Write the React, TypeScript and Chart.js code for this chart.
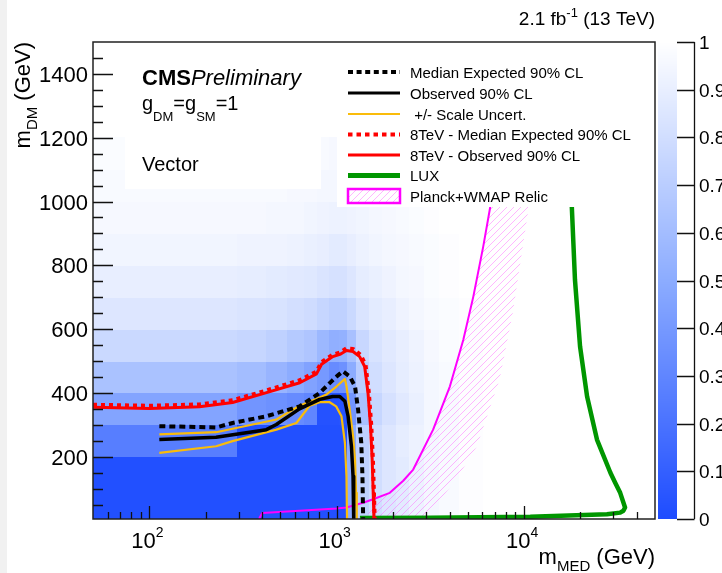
import React, { useEffect, useRef } from "react";
import { Chart, registerables } from "chart.js";

Chart.register(...registerables);

const W = 722;
const H = 573;
const FONT = '"Liberation Sans", Arial, Helvetica, sans-serif';

// ---------------- heat map (mMED bins x mDM bins, value 0..1) ----------------
const xEdges = [50, 170, 296, 423, 547, 675, 791, 918, 1037, 1145, 1280, 1500, 1760, 2080, 2450, 2950, 3550, 4500, 6000];
const yEdges = [0, 100, 200, 300, 400, 500, 600, 700, 800, 900, 1000, 1100, 1200];
const heat0 = [0.02, 0.02, 0.02, 0.02, 0.02, 0.02, 0.02, 0.02, 0.02, 0.5, 0.72, 0.8, 0.85, 0.88, 0.92, 0.95, 0.97, 0.99];
const heat1 = [0.02, 0.02, 0.02, 0.02, 0.02, 0.02, 0.02, 0.02, 0.02, 0.5, 0.72, 0.8, 0.85, 0.88, 0.92, 0.95, 0.97, 0.99];
const heat2 = [0.26, 0.26, 0.02, 0.02, 0.02, 0.02, 0.02, 0.02, 0.02, 0.5, 0.72, 0.8, 0.85, 0.89, 0.92, 0.95, 0.97, 0.99];
const heat3 = [0.46, 0.46, 0.38, 0.36, 0.33, 0.3, 0.03, 0.03, 0.04, 0.38, 0.62, 0.75, 0.82, 0.87, 0.91, 0.95, 0.97, 0.99];
const heat4 = [0.63, 0.63, 0.6, 0.55, 0.5, 0.45, 0.4, 0.33, 0.36, 0.5, 0.7, 0.8, 0.85, 0.89, 0.92, 0.95, 0.97, 0.99];
const heat5 = [0.77, 0.77, 0.75, 0.72, 0.68, 0.65, 0.57, 0.52, 0.53, 0.62, 0.76, 0.83, 0.87, 0.9, 0.93, 0.96, 0.98, 0.99];
const heat6 = [0.85, 0.85, 0.84, 0.83, 0.81, 0.79, 0.75, 0.72, 0.72, 0.77, 0.84, 0.88, 0.9, 0.93, 0.95, 0.97, 0.98, 0.99];
const heat7 = [0.9, 0.9, 0.89, 0.88, 0.87, 0.86, 0.84, 0.82, 0.82, 0.85, 0.89, 0.91, 0.93, 0.95, 0.96, 0.98, 0.99, 1];
const heat8 = [0.94, 0.94, 0.93, 0.93, 0.92, 0.91, 0.9, 0.88, 0.88, 0.9, 0.92, 0.94, 0.95, 0.96, 0.97, 0.98, 0.99, 1];
const heat9 = [0.96, 0.96, 0.96, 0.95, 0.95, 0.94, 0.93, 0.92, 0.92, 0.93, 0.94, 0.95, 0.96, 0.97, 0.98, 0.99, 1, 1];
const heat10 = [0.97, 0.97, 0.97, 0.97, 0.96, 0.96, 0.95, 0.95, 0.95, 0.95, 0.96, 0.97, 0.97, 0.98, 0.99, 1, 1, 1];
const heat11 = [0.98, 0.98, 0.98, 0.98, 0.97, 0.97, 0.97, 0.96, 0.96, 0.96, 0.97, 0.98, 0.98, 0.99, 1, 1, 1, 1];
const heatRows = [heat0, heat1, heat2, heat3, heat4, heat5, heat6, heat7, heat8, heat9, heat10, heat11];

// ---------------- contours (mMED, mDM) ----------------
const expMed = [113, 227, 278, 421, 633, 811, 917, 1000, 1078, 1173, 1252, 1300, 1352, 1372, 1384];
const expDm = [296, 292, 306, 327, 358, 400, 431, 452, 468, 452, 421, 348, 244, 139, 5];

const obsMed = [113, 227, 421, 476, 633, 811, 951, 1038, 1106, 1150, 1198, 1222, 1232];
const obsDm = [254, 261, 285, 301, 350, 380, 389, 389, 374, 327, 233, 139, 5];

const upMed = [113, 227, 476, 633, 811, 880, 1000, 1106, 1127, 1173, 1222, 1252, 1268, 1279];
const upDm = [270, 277, 317, 360, 386, 395, 421, 444, 421, 348, 264, 192, 87, 5];

const dnMed = [113, 227, 278, 476, 609, 716, 811, 917, 993, 1060, 1106, 1127, 1135];
const dnDm = [212, 233, 249, 285, 306, 360, 371, 371, 358, 327, 244, 139, 5];

const r8obsMed = [50, 100, 185, 278, 422, 635, 780, 830, 953, 1050, 1127, 1221, 1325, 1410, 1469, 1515, 1546, 1566, 1580];
const r8obsDm = [355, 351, 357, 370, 401, 432, 460, 490, 514, 522, 533, 530, 514, 483, 400, 296, 192, 87, 5];

const r8expMed = [50, 100, 185, 278, 422, 635, 780, 830, 953, 1050, 1127, 1221, 1340, 1425, 1485, 1530, 1560, 1580, 1595];
const r8expDm = [363, 360, 364, 377, 408, 440, 467, 497, 520, 528, 540, 538, 520, 488, 400, 296, 192, 87, 5];

const luxMed = [1330, 3150, 10800, 27700, 32600, 33900, 34600, 32600, 30700, 28900, 24500, 21700, 19900, 18700, 18000, 17700];
const luxDm = [8, 9, 12, 20, 25, 31, 41, 87, 118, 150, 254, 389, 546, 754, 979, 1100];

const relicMed = [385, 400, 600, 1000, 1127, 1383, 1565, 1920, 2265, 2560, 3270, 4020, 4740, 5360, 6050, 6580, 7100];
const relicDm = [5, 24, 30, 38, 41, 56, 67, 87, 125, 160, 285, 421, 567, 702, 858, 979, 1100];

const hatchMed = [1440, 1565, 1920, 2265, 2560, 3270, 4020, 4740, 5360, 6050, 6580, 7100, 11800, 10700, 8700, 7400, 5600, 4360, 3300, 3000, 1440];
const hatchDm = [5, 67, 87, 125, 160, 285, 421, 567, 702, 858, 979, 1100, 1100, 1000, 650, 442, 233, 130, 40, 5, 5];

// ---------------- axes / labels ----------------
const yMajorTicks = [200, 400, 600, 800, 1000, 1200, 1400];
const yMinorTicks = [50, 100, 150, 250, 300, 350, 450, 500, 550, 650, 700, 750, 850, 900, 950, 1050, 1100, 1150, 1250, 1300, 1350, 1450];
const xMajorTicks = [100, 1000, 10000];
const xMajorExp = ["2", "3", "4"];
const xMinorTicks = [60, 70, 80, 90, 200, 300, 400, 500, 600, 700, 800, 900, 2000, 3000, 4000, 5000, 6000, 7000, 8000, 9000, 20000, 30000, 40000];
const zTicks = [0, 0.1, 0.2, 0.3, 0.4, 0.5, 0.6, 0.7, 0.8, 0.9, 1];
const zLabels = ["0", "0.1", "0.2", "0.3", "0.4", "0.5", "0.6", "0.7", "0.8", "0.9", "1"];
const legendLabels = [
  "Median Expected 90% CL",
  "Observed 90% CL",
  " +/- Scale Uncert.",
  "8TeV - Median Expected 90% CL",
  "8TeV - Observed 90% CL",
  "LUX",
  "Planck+WMAP Relic",
];

const YELLOW = "rgb(250,188,10)";
const RED = "rgb(255,0,0)";
const GREEN = "rgb(0,150,0)";
const MAGENTA = "rgb(255,0,255)";

const STOPS = [
  [0, 30, 76, 255],
  [0.5, 140, 172, 255],
  [1, 255, 255, 255],
];
function heatColor(v: number) {
  const t = Math.max(0, Math.min(1, v));
  for (let i = 0; i < STOPS.length - 1; i++) {
    const a = STOPS[i];
    const b = STOPS[i + 1];
    if (t <= b[0]) {
      const f = (t - a[0]) / (b[0] - a[0]);
      const r = Math.round(a[1] + (b[1] - a[1]) * f);
      const g = Math.round(a[2] + (b[2] - a[2]) * f);
      const bl = Math.round(a[3] + (b[3] - a[3]) * f);
      return `rgb(${r},${g},${bl})`;
    }
  }
  return "rgb(255,255,255)";
}

type Part = { t: string; size: number; dy?: number; style?: string };
function drawParts(ctx: CanvasRenderingContext2D, parts: Part[], x: number, y: number, align: string) {
  let total = 0;
  const widths: number[] = [];
  for (const p of parts) {
    ctx.font = `${p.style || ""} ${p.size}px ${FONT}`;
    const w = ctx.measureText(p.t).width;
    widths.push(w);
    total += w;
  }
  let cx = align === "right" ? x - total : align === "center" ? x - total / 2 : x;
  ctx.textAlign = "left";
  ctx.textBaseline = "alphabetic";
  parts.forEach((p, i) => {
    ctx.font = `${p.style || ""} ${p.size}px ${FONT}`;
    ctx.fillText(p.t, cx, y + (p.dy || 0));
    cx += widths[i];
  });
}

function makeHatch(): CanvasPattern | string {
  const c = document.createElement("canvas");
  c.width = 7;
  c.height = 7;
  const g = c.getContext("2d");
  if (!g) return "rgba(255,0,255,0.2)";
  g.strokeStyle = "rgba(255,90,255,0.55)";
  g.lineWidth = 0.8;
  g.beginPath();
  g.moveTo(-1, 8);
  g.lineTo(8, -1);
  g.moveTo(-1, 1);
  g.lineTo(1, -1);
  g.moveTo(6, 8);
  g.lineTo(8, 6);
  g.stroke();
  const p = g.createPattern(c, "repeat");
  return p || "rgba(255,0,255,0.2)";
}

const pts = (xs: number[], ys: number[]) => xs.map((x, i) => ({ x, y: ys[i] }));

function drawLegendSymbol(ctx: CanvasRenderingContext2D, i: number, y: number, hatch: any) {
  const x0 = 348;
  const x1 = 400;
  ctx.save();
  ctx.lineCap = "butt";
  const line = (color: string, w: number, dash: number[]) => {
    ctx.strokeStyle = color;
    ctx.lineWidth = w;
    ctx.setLineDash(dash);
    ctx.beginPath();
    ctx.moveTo(x0, y);
    ctx.lineTo(x1, y);
    ctx.stroke();
  };
  if (i === 0) line("#000", 4, [5, 3.6]);
  if (i === 1) line("#000", 3, []);
  if (i === 2) line(YELLOW, 2, []);
  if (i === 3) line(RED, 4, [4.5, 4]);
  if (i === 4) line(RED, 3, []);
  if (i === 5) line(GREEN, 5, []);
  if (i === 6) {
    ctx.fillStyle = "#fff";
    ctx.fillRect(x0, y - 7, x1 - x0, 14);
    ctx.fillStyle = hatch;
    ctx.fillRect(x0, y - 7, x1 - x0, 14);
    ctx.strokeStyle = MAGENTA;
    ctx.lineWidth = 2.5;
    ctx.setLineDash([]);
    ctx.strokeRect(x0, y - 7, x1 - x0, 14);
  }
  ctx.restore();
}

export default function App() {
  const ref = useRef<HTMLCanvasElement>(null);

  useEffect(() => {
    const canvas = ref.current;
    if (!canvas) return;
    const hatch = makeHatch();

    const rootPlugin = {
      id: "rootStyle",
      beforeDraw(chart: any) {
        const ctx = chart.ctx as CanvasRenderingContext2D;
        ctx.save();
        ctx.fillStyle = "#fff";
        ctx.fillRect(0, 0, W, H);
        ctx.fillStyle = "#f1f1f1";
        ctx.fillRect(0, 0, 7, H);
        ctx.restore();
      },
      beforeDatasetsDraw(chart: any) {
        const ctx = chart.ctx as CanvasRenderingContext2D;
        const a = chart.chartArea;
        const xs = chart.scales.x;
        const ys = chart.scales.y;
        ctx.save();
        ctx.beginPath();
        ctx.rect(a.left, a.top, a.right - a.left, a.bottom - a.top);
        ctx.clip();
        for (let j = 0; j < heatRows.length; j++) {
          const row = heatRows[j];
          const yTop = ys.getPixelForValue(yEdges[j + 1]);
          const yBot = ys.getPixelForValue(yEdges[j]);
          for (let i = 0; i < row.length; i++) {
            const xl = xs.getPixelForValue(xEdges[i]);
            const xr = xs.getPixelForValue(xEdges[i + 1]);
            ctx.fillStyle = heatColor(row[i]);
            ctx.fillRect(Math.floor(xl), Math.floor(yTop), Math.ceil(xr) - Math.floor(xl), Math.ceil(yBot) - Math.floor(yTop));
          }
        }
        ctx.restore();
      },
      afterDatasetsDraw(chart: any) {
        const ctx = chart.ctx as CanvasRenderingContext2D;
        const a = chart.chartArea;
        const xs = chart.scales.x;
        const ys = chart.scales.y;
        ctx.save();

        // white boxes (text box and legend)
        ctx.fillStyle = "#fff";
        ctx.fillRect(125, a.top, 196, 189 - a.top);
        ctx.fillRect(337, a.top, a.right - 337, 207 - a.top);

        // CMS text
        ctx.fillStyle = "#000";
        drawParts(ctx, [
          { t: "CMS", size: 22, style: "bold" },
          { t: "Preliminary", size: 22, style: "italic" },
        ], 142, 85, "left");
        drawParts(ctx, [
          { t: "g", size: 20 },
          { t: "DM", size: 13, dy: 11 },
          { t: "=g", size: 20 },
          { t: "SM", size: 13, dy: 11 },
          { t: "=1", size: 20 },
        ], 142, 110, "left");
        drawParts(ctx, [{ t: "Vector", size: 20 }], 142, 171, "left");

        // legend
        const legendY = [72, 93, 114, 134.5, 155, 175.5, 196];
        legendLabels.forEach((lab, i) => {
          drawLegendSymbol(ctx, i, legendY[i], hatch);
          ctx.fillStyle = "#000";
          drawParts(ctx, [{ t: lab, size: 15 }], 410, legendY[i] + 5.5, "left");
        });

        // frame
        ctx.strokeStyle = "#222";
        ctx.lineWidth = 1.5;
        ctx.setLineDash([]);
        ctx.strokeRect(a.left, a.top, a.right - a.left, a.bottom - a.top);

        // y ticks
        ctx.lineWidth = 1.3;
        ctx.strokeStyle = "#111";
        ctx.beginPath();
        for (const v of yMajorTicks) {
          const p = Math.round(ys.getPixelForValue(v)) + 0.5;
          ctx.moveTo(a.left, p);
          ctx.lineTo(a.left + 20, p);
        }
        for (const v of yMinorTicks) {
          const p = Math.round(ys.getPixelForValue(v)) + 0.5;
          ctx.moveTo(a.left, p);
          ctx.lineTo(a.left + 10, p);
        }
        // x ticks
        for (const v of xMajorTicks) {
          const p = Math.round(xs.getPixelForValue(v)) + 0.5;
          ctx.moveTo(p, a.bottom);
          ctx.lineTo(p, a.bottom - 13);
        }
        for (const v of xMinorTicks) {
          const p = Math.round(xs.getPixelForValue(v)) + 0.5;
          ctx.moveTo(p, a.bottom);
          ctx.lineTo(p, a.bottom - 7);
        }
        ctx.stroke();

        // y tick labels
        ctx.fillStyle = "#000";
        for (const v of yMajorTicks) {
          drawParts(ctx, [{ t: String(v), size: 22 }], 88, ys.getPixelForValue(v) + 8, "right");
        }
        // x tick labels
        xMajorTicks.forEach((v, i) => {
          drawParts(ctx, [
            { t: "10", size: 22 },
            { t: xMajorExp[i], size: 14, dy: -11 },
          ], xs.getPixelForValue(v) - 2, 548, "center");
        });

        // axis titles
        drawParts(ctx, [
          { t: "m", size: 22 },
          { t: "MED", size: 15, dy: 7 },
          { t: " (GeV)", size: 22 },
        ], a.right, 564, "right");
        ctx.save();
        ctx.translate(30, a.top);
        ctx.rotate(-Math.PI / 2);
        drawParts(ctx, [
          { t: "m", size: 22 },
          { t: "DM", size: 15, dy: 7 },
          { t: " (GeV)", size: 22 },
        ], 0, 0, "right");
        ctx.restore();

        // top text
        drawParts(ctx, [
          { t: "2.1 fb", size: 19 },
          { t: "-1", size: 13, dy: -8 },
          { t: " (13 TeV)", size: 19 },
        ], a.right, 25, "right");

        // colour bar
        const cbL = 658;
        const cbR = 677;
        const cbT = a.top;
        const cbB = a.bottom;
        for (let py = Math.floor(cbT); py < cbB; py++) {
          const v = (cbB - (py + 0.5)) / (cbB - cbT);
          ctx.fillStyle = heatColor(v);
          ctx.fillRect(cbL, py, cbR - cbL, 1);
        }
        ctx.strokeStyle = "#111";
        ctx.lineWidth = 1.3;
        ctx.beginPath();
        ctx.moveTo(694.5, cbT);
        ctx.lineTo(694.5, cbB);
        zTicks.forEach((z) => {
          const p = Math.round(cbB - z * (cbB - cbT)) + 0.5;
          ctx.moveTo(cbR, p);
          ctx.lineTo(694.5, p);
        });
        ctx.stroke();
        ctx.fillStyle = "#000";
        zTicks.forEach((z, i) => {
          const p = cbB - z * (cbB - cbT);
          drawParts(ctx, [{ t: zLabels[i], size: 19 }], 699, p + 7, "left");
        });

        ctx.restore();
      },
    };

    const common = { showLine: true, pointRadius: 0, pointHoverRadius: 0, fill: false, tension: 0, clip: 0, borderJoinStyle: "round" as const };

    const chart = new Chart(canvas, {
      type: "scatter",
      data: {
        datasets: [
          { ...common, label: "Median Expected 90% CL", data: pts(expMed, expDm), borderColor: "#000", borderWidth: 4, borderDash: [6, 4] },
          { ...common, label: "Observed 90% CL", data: pts(obsMed, obsDm), borderColor: "#000", borderWidth: 3.5 },
          { ...common, label: "+/- Scale Uncert. (up)", data: pts(upMed, upDm), borderColor: YELLOW, borderWidth: 2.2 },
          { ...common, label: "+/- Scale Uncert. (down)", data: pts(dnMed, dnDm), borderColor: YELLOW, borderWidth: 2.2 },
          { ...common, label: "8TeV - Median Expected 90% CL", data: pts(r8expMed, r8expDm), borderColor: RED, borderWidth: 4, borderDash: [4, 4] },
          { ...common, label: "8TeV - Observed 90% CL", data: pts(r8obsMed, r8obsDm), borderColor: RED, borderWidth: 3 },
          { ...common, label: "LUX", data: pts(luxMed, luxDm), borderColor: GREEN, borderWidth: 4.5 },
          { ...common, label: "Planck+WMAP Relic", data: pts(relicMed, relicDm), borderColor: MAGENTA, borderWidth: 2 },
          { ...common, label: "Relic region", data: pts(hatchMed, hatchDm), borderColor: "rgba(0,0,0,0)", borderWidth: 0, fill: "shape", backgroundColor: hatch as any },
        ] as any,
      },
      options: {
        responsive: false,
        animation: false,
        devicePixelRatio: 1,
        events: [],
        layout: { padding: { left: 93, right: W - 655, top: 42, bottom: H - 519 } },
        plugins: { legend: { display: false }, tooltip: { enabled: false }, title: { display: false } },
        scales: {
          x: { type: "logarithmic", min: 50, max: 50000, display: false },
          y: { type: "linear", min: 5, max: 1500, display: false },
        },
      } as any,
      plugins: [rootPlugin],
    });
    return () => chart.destroy();
  }, []);

  return (
    <div style={{ position: "absolute", left: 0, top: 0, width: W, height: H, background: "#fff" }}>
      <canvas ref={ref} width={W} height={H} style={{ display: "block", width: W, height: H }} />
    </div>
  );
}
